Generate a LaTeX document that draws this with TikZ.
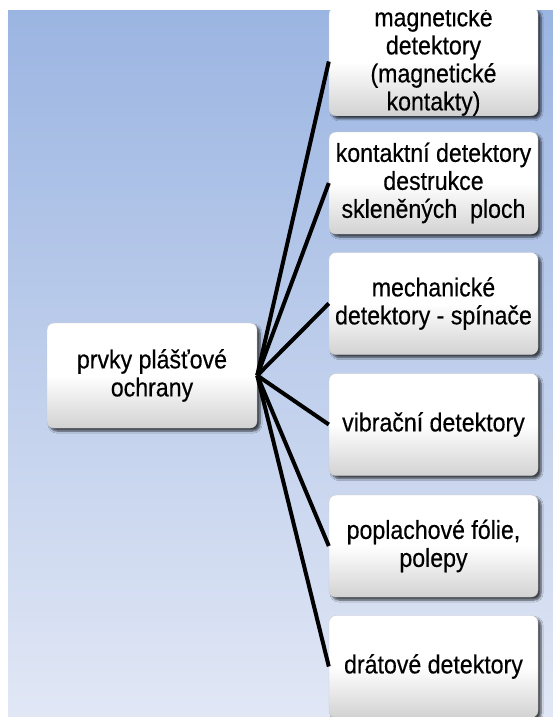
\documentclass[tikz,border=0pt]{standalone}
\usepackage{fontspec}
\setmainfont[FakeStretch=0.89,FakeBold=0.4]{Liberation Sans}
\usetikzlibrary{shadows.blur}
\definecolor{bgtop}{RGB}{155,181,226}
\definecolor{bgbot}{RGB}{225,231,245}
\definecolor{boxbot}{RGB}{210,210,210}
\tikzset{
  box/.style={rectangle, rounded corners=7pt, minimum width=209pt, minimum height=102pt,
    inner sep=0pt, align=center, text=black, draw=gray!40, line width=0.4pt,
    top color=white, bottom color=boxbot, middle color=white,
    font=\fontsize{26}{28}\selectfont,
    blur shadow={shadow xshift=3pt, shadow yshift=-3pt, shadow blur steps=6, shadow opacity=70}},
  link/.style={line width=4pt, draw=black, line cap=butt}
}
\begin{document}
\begin{tikzpicture}[x=1pt,y=-1pt]
\useasboundingbox (0,0) rectangle (553,717);
\clip (0,0) rectangle (553,717);
\fill[white] (0,0) rectangle (553,717);
\shade[top color=bgtop, bottom color=bgbot] (8,10) rectangle (553,717);
\node[box, minimum width=210pt, minimum height=105pt] (c) at (152,375.5) {prvky plášťové\\ochrany};
\node[box] (b1) at (433.5,61.5) {magnetické\\detektory\\(magnetické\\kontakty)};
\node[box] (b2) at (433.5,183) {kontaktní detektory\\destrukce\\skleněných\ \ ploch};
\node[box] (b3) at (433.5,303.5) {mechanické\\detektory - spínače};
\node[box] (b4) at (433.5,424.5) {vibrační detektory};
\node[box] (b5) at (433.5,546) {poplachové fólie,\\polepy};
\node[box] (b6) at (433.5,666.5) {drátové detektory};
\foreach \b in {b1,b2,b3,b4,b5,b6} \draw[link] (c.east) -- (\b.west);
\fill[white] (0,0) rectangle (553,10);
\end{tikzpicture}
\end{document}
